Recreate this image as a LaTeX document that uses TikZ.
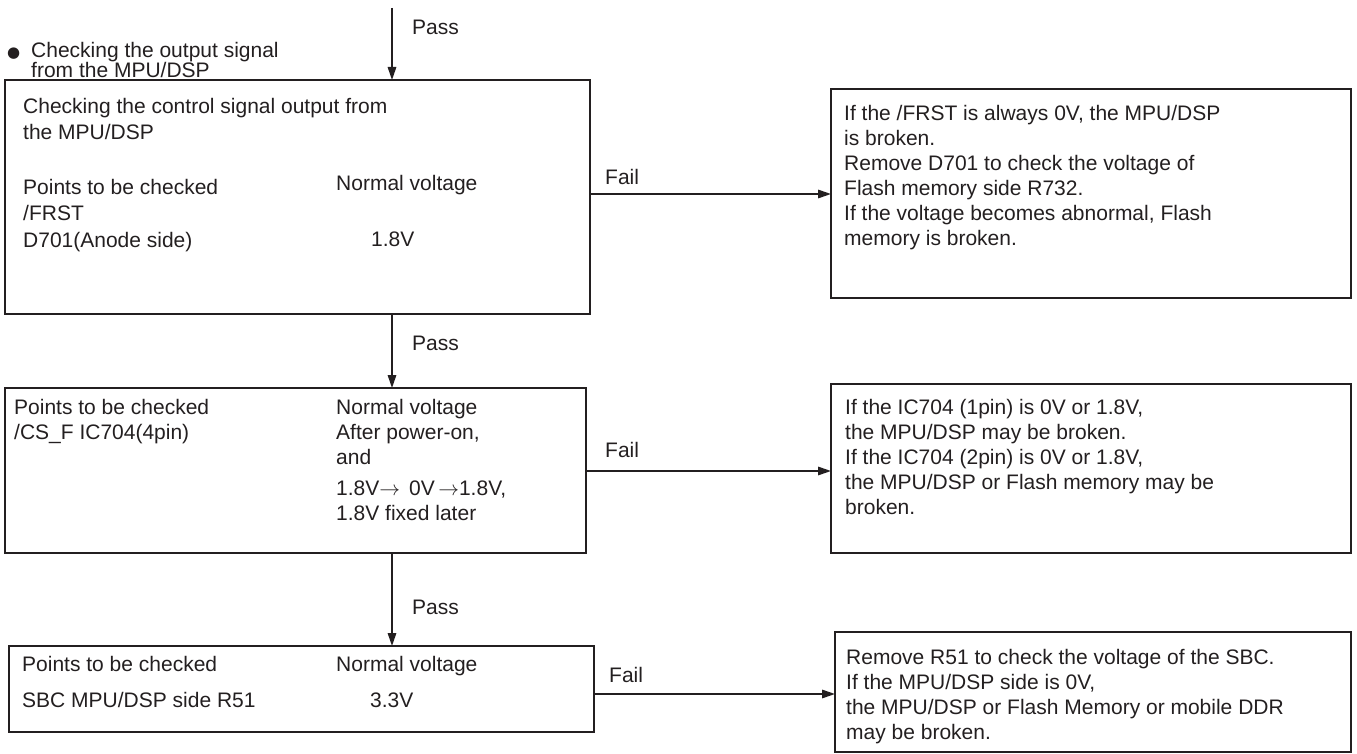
\documentclass[tikz,border=0pt]{standalone}
\usepackage{fontspec}
\setmainfont{Liberation Sans}
\newfontfamily\djv{DejaVu Sans}
\usetikzlibrary{arrows.meta}
\definecolor{ink}{RGB}{35,31,32}
\newcommand{\fs}{\rule{0pt}{15pt}}
\tikzset{
  box/.style={draw=ink, line width=2.3pt, inner sep=0pt, outer sep=0pt},
  txt/.style={anchor=north west, inner sep=0pt, align=left, text=ink, font=\fontsize{21}{25}\selectfont},
  txtb/.style={txt, font=\fontsize{21}{26.3}\selectfont},
  lbl/.style={anchor=base west, inner sep=0pt, text=ink, font=\fontsize{21}{25}\selectfont},
  arr/.style={draw=ink, line width=1.6pt, -{Triangle[length=13pt,width=8.5pt]}},
}
\begin{document}
\begin{tikzpicture}[x=1pt,y=-1pt]
\useasboundingbox (0,0) rectangle (1357,754);

% boxes
\node[box, minimum width=585pt, minimum height=234pt] (b1) at (297.5,197) {};
\node[box, minimum width=520pt, minimum height=209pt] (r1) at (1091,193.5) {};
\node[box, minimum width=581pt, minimum height=165pt] (b2) at (295.5,470.5) {};
\node[box, minimum width=520pt, minimum height=169pt] (r2) at (1091,468.5) {};
\node[box, minimum width=585pt, minimum height=86pt] (b3) at (301.5,689) {};
\node[box, minimum width=516pt, minimum height=120pt] (r3) at (1093,692) {};

% intro text
\node[lbl] (bullet) at (7,58) {{\djv\fontsize{15}{15}\selectfont ●}};
\node[txt, font=\fontsize{21}{20}\selectfont] (intro) at (31,42) {\fs Checking the output signal\\from the MPU/DSP};

% box 1 text
\node[txtb] (b1a) at (23,98) {\fs Checking the control signal output from\\the MPU/DSP};
\node[txtb] (b1b) at (23,179) {\fs Points to be checked\\/FRST\\D701(Anode side)};
\node[txt] (b1c) at (336,175) {\fs Normal voltage};
\node[txt] (b1d) at (371,231) {\fs 1.8V};

% right box 1
\node[txt] (r1t) at (844,105) {\fs If the /FRST is always 0V, the MPU/DSP\\is broken.\\Remove D701 to check the voltage of\\Flash memory side R732.\\If the voltage becomes abnormal, Flash\\memory is broken.};

% box 2 text
\node[txt] (b2a) at (14,399) {\fs Points to be checked\\/CS\_F IC704(4pin)};
\node[txt] (b2b) at (336,399) {\fs Normal voltage\\After power-on,\\and\\[6pt]1.8V$\rightarrow$\hspace{9pt}0V\,$\rightarrow$1.8V,\\1.8V fixed later};

% right box 2
\node[txt] (r2t) at (845,399) {\fs If the IC704 (1pin) is 0V or 1.8V,\\the MPU/DSP may be broken.\\If the IC704 (2pin) is 0V or 1.8V,\\the MPU/DSP or Flash memory may be\\broken.};

% box 3 text
\node[txt] (b3a) at (22,656) {\fs Points to be checked};
\node[txt] (b3b) at (22,692) {\fs SBC MPU/DSP side R51};
\node[txt] (b3c) at (336,656) {\fs Normal voltage};
\node[txt] (b3d) at (370,692) {\fs 3.3V};

% right box 3
\node[txt] (r3t) at (846,649) {\fs Remove R51 to check the voltage of the SBC.\\If the MPU/DSP side is 0V,\\the MPU/DSP or Flash Memory or mobile DDR\\may be broken.};

% pass arrows
\coordinate (s0) at (392,8);
\draw[arr] (s0) -- (s0 |- b1.north);
\draw[arr] (b1.south -| s0) -- (b2.north -| s0);
\draw[arr] (b2.south -| s0) -- (b3.north -| s0);
\node[lbl] (p1) at (412,35) {Pass};
\node[lbl] (p2) at (412,350) {Pass};
\node[lbl] (p3) at (412,614) {Pass};

% fail arrows
\coordinate (f1) at (0,194);
\coordinate (f2) at (0,471);
\coordinate (f3) at (0,694);
\draw[arr] (b1.east |- f1) -- (r1.west |- f1);
\draw[arr] (b2.east |- f2) -- (r2.west |- f2);
\draw[arr] (b3.east |- f3) -- (r3.west |- f3);
\node[lbl] (fl1) at (605,185) {Fail};
\node[lbl] (fl2) at (605,457) {Fail};
\node[lbl] (fl3) at (609,682) {Fail};
\end{tikzpicture}
\end{document}
